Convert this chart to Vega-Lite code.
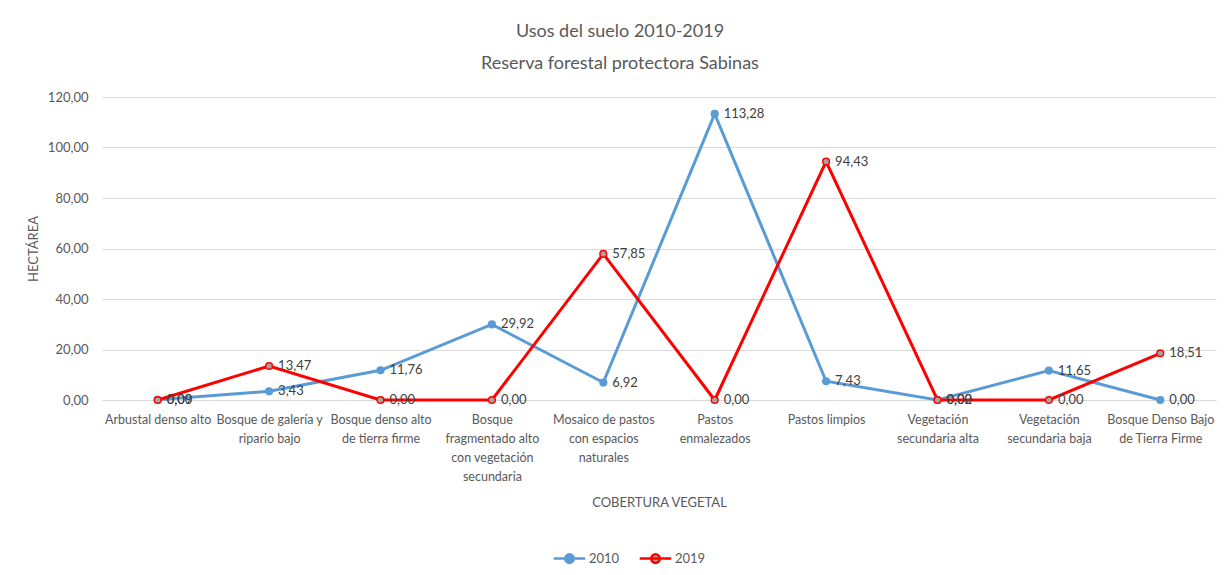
{
  "$schema": "https://vega.github.io/schema/vega-lite/v6.json",
  "autosize": {"type": "none"},
  "width": 1114,
  "height": 303,
  "padding": {"left": 102, "top": 97, "right": 14, "bottom": 175},
  "background": "white",
  "title": {
    "text": ["Usos del suelo 2010-2019", "Reserva forestal protectora Sabinas"],
    "fontSize": 18,
    "fontWeight": "normal",
    "color": "#595959",
    "lineHeight": 32,
    "anchor": "middle",
    "dx": -39,
    "offset": 18
  },
  "data": {
    "values": [
      {"cat": "Arbustal denso alto", "serie": "2010", "ha": 0.09},
      {"cat": "Bosque de galería y ripario bajo", "serie": "2010", "ha": 3.43},
      {"cat": "Bosque denso alto de tierra firme", "serie": "2010", "ha": 11.76},
      {"cat": "Bosque fragmentado alto con vegetación secundaria", "serie": "2010", "ha": 29.92},
      {"cat": "Mosaico de pastos con espacios naturales", "serie": "2010", "ha": 6.92},
      {"cat": "Pastos enmalezados", "serie": "2010", "ha": 113.28},
      {"cat": "Pastos limpios", "serie": "2010", "ha": 7.43},
      {"cat": "Vegetación secundaria alta", "serie": "2010", "ha": 0.02},
      {"cat": "Vegetación secundaria baja", "serie": "2010", "ha": 11.65},
      {"cat": "Bosque Denso Bajo de Tierra Firme", "serie": "2010", "ha": 0.0},
      {"cat": "Arbustal denso alto", "serie": "2019", "ha": 0.0},
      {"cat": "Bosque de galería y ripario bajo", "serie": "2019", "ha": 13.47},
      {"cat": "Bosque denso alto de tierra firme", "serie": "2019", "ha": 0.0},
      {"cat": "Bosque fragmentado alto con vegetación secundaria", "serie": "2019", "ha": 0.0},
      {"cat": "Mosaico de pastos con espacios naturales", "serie": "2019", "ha": 57.85},
      {"cat": "Pastos enmalezados", "serie": "2019", "ha": 0.0},
      {"cat": "Pastos limpios", "serie": "2019", "ha": 94.43},
      {"cat": "Vegetación secundaria alta", "serie": "2019", "ha": 0.0},
      {"cat": "Vegetación secundaria baja", "serie": "2019", "ha": 0.0},
      {"cat": "Bosque Denso Bajo de Tierra Firme", "serie": "2019", "ha": 18.51}
    ]
  },
  "encoding": {
    "x": {
      "field": "cat",
      "type": "nominal",
      "sort": null,
      "scale": {"type": "point", "padding": 0.5},
      "axis": {
        "title": "COBERTURA VEGETAL",
        "labelAngle": 0,
        "domain": true,
        "domainColor": "#D9D9D9",
        "ticks": false,
        "grid": false,
        "labelPadding": 13,
        "labelFontSize": 12.5,
        "labelLineHeight": 19,
        "labelColor": "#595959",
        "labelLimit": 200,
        "titlePadding": 14,
        "labelExpr": "{'Arbustal denso alto': ['Arbustal denso alto'], 'Bosque de galería y ripario bajo': ['Bosque de galería y', 'ripario bajo'], 'Bosque denso alto de tierra firme': ['Bosque denso alto', 'de tierra firme'], 'Bosque fragmentado alto con vegetación secundaria': ['Bosque', 'fragmentado alto', 'con vegetación', 'secundaria'], 'Mosaico de pastos con espacios naturales': ['Mosaico de pastos', 'con espacios', 'naturales'], 'Pastos enmalezados': ['Pastos', 'enmalezados'], 'Pastos limpios': ['Pastos limpios'], 'Vegetación secundaria alta': ['Vegetación', 'secundaria alta'], 'Vegetación secundaria baja': ['Vegetación', 'secundaria baja'], 'Bosque Denso Bajo de Tierra Firme': ['Bosque Denso Bajo', 'de Tierra Firme']}[datum.label]"
      }
    },
    "y": {
      "field": "ha",
      "type": "quantitative",
      "scale": {"domain": [0, 120]},
      "axis": {
        "title": "HECTÁREA",
        "values": [0, 20, 40, 60, 80, 100, 120],
        "format": ".2f",
        "domain": false,
        "ticks": false,
        "grid": true,
        "gridColor": "#D9D9D9",
        "labelPadding": 14,
        "labelFontSize": 13,
        "labelColor": "#595959",
        "titlePadding": 7
      }
    }
  },
  "layer": [
    {
      "mark": {"type": "line", "strokeWidth": 3},
      "encoding": {
        "color": {
          "field": "serie",
          "type": "nominal",
          "scale": {"domain": ["2010", "2019"], "range": ["#5B9BD5", "#FF0000"]},
          "legend": {
            "title": null,
            "orient": "none",
            "legendX": 450,
            "legendY": 444,
            "direction": "horizontal",
            "symbolType": "M-1,0H1M0.27,0A0.27,0.27,0,1,1,-0.27,0A0.27,0.27,0,1,1,0.27,0Z",
            "symbolSize": 1000,
            "symbolStrokeWidth": 2.5,
            "labelFontSize": 13,
            "labelColor": "#595959",
            "labelOffset": 2,
            "columnPadding": 14,
            "encode": {
              "symbols": {
                "update": {
                  "fill": {"signal": "datum.value === '2010' ? '#5B9BD5' : '#A5A5A5'"},
                  "fillOpacity": {"value": 1}
                }
              }
            }
          }
        }
      }
    },
    {
      "mark": {"type": "point", "filled": false, "size": 45, "strokeWidth": 1.5, "opacity": 1},
      "encoding": {
        "color": {"field": "serie", "type": "nominal"},
        "fill": {
          "field": "serie",
          "type": "nominal",
          "scale": {"domain": ["2010", "2019"], "range": ["#5B9BD5", "#A5A5A5"]},
          "legend": null
        }
      }
    },
    {
      "mark": {"type": "text", "align": "left", "baseline": "middle", "dx": 9, "fontSize": 13, "color": "#404040"},
      "encoding": {
        "text": {"field": "ha", "type": "quantitative", "format": ".2f"}
      }
    }
  ],
  "config": {
    "locale": {"number": {"decimal": ",", "thousands": ".", "grouping": [3], "currency": ["", " €"]}},
    "font": "Lato",
    "view": {"stroke": null},
    "axis": {"titleFont": "Lato", "labelFont": "Lato", "titleFontWeight": "normal", "titleFontSize": 13, "titleColor": "#595959"},
    "legend": {"labelFont": "Lato"},
    "title": {"font": "Lato"},
    "text": {"font": "Lato"}
  }
}
